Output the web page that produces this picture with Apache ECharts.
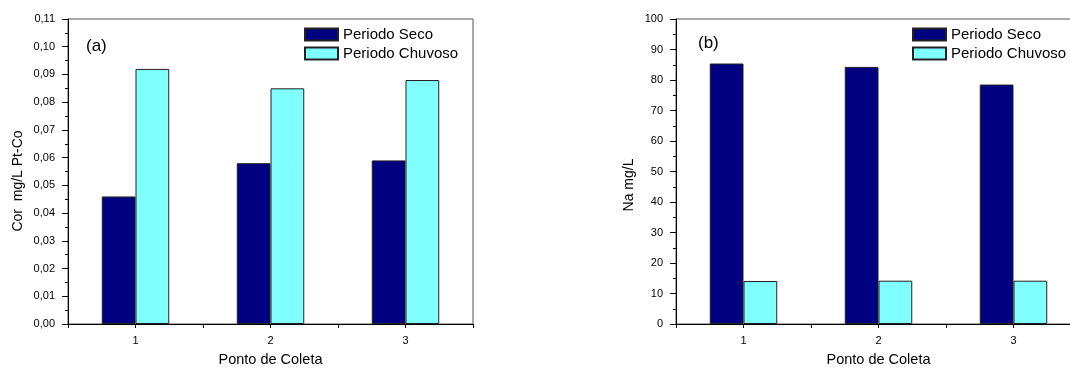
<!DOCTYPE html>
<html>
<head>
<meta charset="utf-8">
<script src="https://cdn.jsdelivr.net/npm/echarts@6/dist/echarts.min.js"></script>
<style>html,body{margin:0;padding:0;background:#fff;overflow:hidden}#c{width:1100px;height:372px}</style>
</head>
<body>
<div id="c"></div>
<script>
const categories = ['1', '2', '3'];
const seriesNames = ['Periodo Seco', 'Periodo Chuvoso'];
const corSeco = [0.046, 0.058, 0.059];
const corChuvoso = [0.092, 0.085, 0.088];
const naSeco = [85.4, 84.3, 78.5];
const naChuvoso = [14.1, 14.2, 14.2];
const panelLabels = ['(a)', '(b)'];
const yNames = ['Cor  mg/L Pt-Co', 'Na mg/L'];
const xName = 'Ponto de Coleta';

const FONT = '"Liberation Sans", Arial, sans-serif';
const chart = echarts.init(document.getElementById('c'), null, {renderer: 'canvas'});

function mkX(gi, withLabels) {
  return {
    type: 'category', gridIndex: gi, data: categories, position: 'bottom',
    boundaryGap: true,
    axisLine: {show: withLabels, lineStyle: {color: '#000', width: 1}},
    axisTick: {show: true, alignWithLabel: withLabels, length: 4, lineStyle: {color: '#000'}},
    axisLabel: {show: withLabels, color: '#000', fontSize: 11, fontFamily: FONT, margin: 11},
    name: withLabels ? xName : '',
    nameLocation: 'middle', nameGap: 28,
    nameTextStyle: {color: '#000', fontSize: 14.5, fontFamily: FONT},
    splitLine: {show: false}
  };
}
function mkY(gi, max, interval, fmt) {
  return {
    type: 'value', gridIndex: gi, min: 0, max: max, interval: interval,
    axisLine: {show: true, lineStyle: {color: '#000', width: 1}},
    axisTick: {show: true, length: 6, lineStyle: {color: '#000'}},
    minorTick: {show: true, splitNumber: 2, length: 3, lineStyle: {color: '#000'}},
    axisLabel: {color: '#000', fontSize: 11, fontFamily: FONT, margin: 13, formatter: fmt},
    splitLine: {show: false}
  };
}
function mkBar(name, data, xi, yi, color) {
  return {
    type: 'bar', name: name, data: data, xAxisIndex: xi, yAxisIndex: yi,
    barGap: '0%', barCategoryGap: '50%',
    itemStyle: {color: color, borderColor: '#222', borderWidth: 1},
    emphasis: {disabled: true}
  };
}
function mkLegend(left) {
  return {
    data: seriesNames, orient: 'vertical', left: left, top: 27,
    icon: 'rect',
    itemWidth: 33, itemHeight: 12, itemGap: 4, padding: 0,
    textStyle: {color: '#000', fontSize: 15, fontFamily: FONT},
    selectedMode: false
  };
}
function yNameText(x, y, t) {
  return {
    type: 'text', x: x, y: y, rotation: Math.PI / 2,
    style: {text: t, fill: '#000', font: '14px ' + FONT, align: 'center', verticalAlign: 'middle'},
    silent: true
  };
}

chart.setOption({
  animation: false,
  backgroundColor: '#fff',
  title: [
    {text: panelLabels[0], left: 86, top: 38, padding: 0, textStyle: {fontSize: 17, fontWeight: 'normal', color: '#000', fontFamily: FONT}},
    {text: panelLabels[1], left: 698, top: 35, padding: 0, textStyle: {fontSize: 17, fontWeight: 'normal', color: '#000', fontFamily: FONT}}
  ],
  legend: [mkLegend(304), mkLegend(912)],
  grid: [
    {left: 68, top: 19, width: 405, height: 306, show: true, borderColor: '#555', borderWidth: 1, backgroundColor: 'transparent'},
    {left: 676, top: 19, width: 405, height: 306, show: true, borderColor: '#555', borderWidth: 1, backgroundColor: 'transparent'}
  ],
  xAxis: [mkX(0, true), mkX(0, false), mkX(1, true), mkX(1, false)],
  yAxis: [
    mkY(0, 0.11, 0.01, v => v.toFixed(2).replace('.', ',')),
    mkY(1, 100, 10, v => String(Math.round(v)))
  ],
  graphic: [yNameText(18, 181, yNames[0]), yNameText(629, 185, yNames[1])],
  series: [
    mkBar(seriesNames[0], corSeco, 0, 0, '#000080'),
    mkBar(seriesNames[1], corChuvoso, 0, 0, '#80FFFF'),
    mkBar(seriesNames[0], naSeco, 2, 1, '#000080'),
    mkBar(seriesNames[1], naChuvoso, 2, 1, '#80FFFF')
  ]
});
</script>
</body>
</html>
